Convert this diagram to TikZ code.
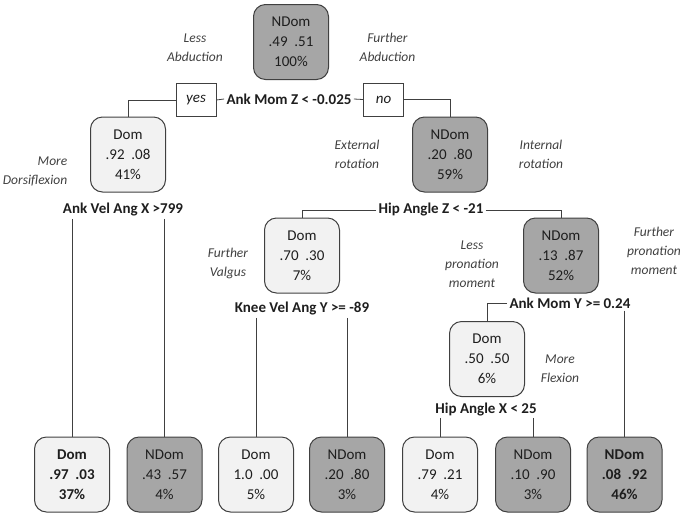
\documentclass[tikz,border=0pt]{standalone}
\usepackage{fontspec}
\setmainfont{Carlito}
\usetikzlibrary{calc}
\definecolor{ndomgrau}{RGB}{166,166,166}
\definecolor{domgrau}{RGB}{242,242,242}
\definecolor{rand}{RGB}{64,64,64}
\definecolor{schrift}{RGB}{30,30,30}

\begin{document}
\begin{tikzpicture}[x=1pt, y=-1pt, line width=0.8pt, rand,
    kasten/.style={draw=rand, line width=1pt, rounded corners=12pt, minimum width=75pt, minimum height=75pt,
        align=center, text=schrift, font=\fontsize{15}{20}\selectfont},
    dom/.style={kasten, fill=domgrau},
    ndom/.style={kasten, fill=ndomgrau},
    fett/.style={font=\fontsize{15}{20}\selectfont\bfseries},
    frage/.style={text=schrift, inner sep=2pt, font=\fontsize{15}{18}\selectfont\bfseries},
    antwort/.style={draw=rand, fill=white, minimum width=40pt, minimum height=33pt, inner sep=0pt,
        text=schrift, font=\fontsize{15}{18}\selectfont\itshape},
    hinweis/.style={align=center, text=schrift!85, font=\fontsize{13.5}{19}\selectfont\itshape}]

    \useasboundingbox (0,0) rectangle (685,520);

    % Wurzel und erste Teilung
    \node[ndom] (wurzel) at (291,42) {NDom\\.49\ \ .51\\100\%};
    \node[antwort] (ja) at (196,100) {yes};
    \node[antwort] (nein) at (383.5,99.5) {no};
    \node[frage] (f1) at (289,99) {Ank Mom Z < -0.025};

    \node[dom] (d41) at (128,154.5) {Dom\\.92\ \ .08\\41\%};
    \node[ndom] (n59) at (450,154.5) {NDom\\.20\ \ .80\\59\%};

    \node[frage] (f2) at (123,210) {Ank Vel Ang X >799};
    \node[frage] (f3) at (431,210) {Hip Angle Z < -21};

    \node[dom] (d7) at (302,255.5) {Dom\\.70\ \ .30\\7\%};
    \node[ndom] (n52) at (561,255.5) {NDom\\.13\ \ .87\\52\%};

    \node[frage] (f4) at (302,309) {Knee Vel Ang Y >= -89};
    \node[frage] (f5) at (570,303) {Ank Mom Y >= 0.24};

    \node[dom] (d6) at (487,359) {Dom\\.50\ \ .50\\6\%};
    \node[frage] (f6) at (486,409) {Hip Angle X < 25};

    % Blaetter
    \node[dom, fett] (b1) at (72,474.5) {Dom\\.97\ \ .03\\37\%};
    \node[ndom] (b2) at (164.5,474.5) {NDom\\.43\ \ .57\\4\%};
    \node[dom] (b3) at (256,474.5) {Dom\\1.0\ \ .00\\5\%};
    \node[ndom] (b4) at (347,474.5) {NDom\\.20\ \ .80\\3\%};
    \node[dom] (b5) at (440,474.5) {Dom\\.79\ \ .21\\4\%};
    \node[ndom] (b6) at (533,474.5) {NDom\\.10\ \ .90\\3\%};
    \node[ndom, fett] (b7) at (624.5,474.5) {NDom\\.08\ \ .92\\46\%};

    % Hinweise
    \node[hinweis] (h1) at (195,48) {Less\\Abduction};
    \node[hinweis] (h2) at (387.5,47) {Further\\Abduction};
    \node[hinweis, align=right, anchor=east] (h3) at (71,171) {More\\Dorsiflexion};
    \node[hinweis] (h4) at (357,154) {External\\rotation};
    \node[hinweis] (h5) at (541,154) {Internal\\rotation};
    \node[hinweis] (h6) at (228,263) {Further\\Valgus};
    \node[hinweis] (h7) at (472,264) {Less\\pronation\\moment};
    \node[hinweis] (h8) at (654,251) {Further\\pronation\\moment};
    \node[hinweis] (h9) at (560,368.5) {More\\Flexion};

    % Verbindungen
    \draw (f1.west) -- (ja.east);
    \draw (f1.east) -- (nein.west);
    \draw (ja.west) -| (d41.north);
    \draw (nein.east) -| (n59.north);

    \draw (f2.south -| b1.north) -- (b1.north);
    \draw (f2.south -| b2.north) -- (b2.north);

    \draw (f3.west) -| (d7.north);
    \draw (f3.east) -| (n52.north);

    \draw (f4.south -| b3.north) -- (b3.north);
    \draw (f4.south -| b4.north) -- (b4.north);

    \draw (f5.west) -| (d6.north);
    \draw (f5.south -| b7.north) -- (b7.north);

    \draw (f6.south -| b5.north) -- (b5.north);
    \draw (f6.south -| b6.north) -- (b6.north);

\end{tikzpicture}
\end{document}
